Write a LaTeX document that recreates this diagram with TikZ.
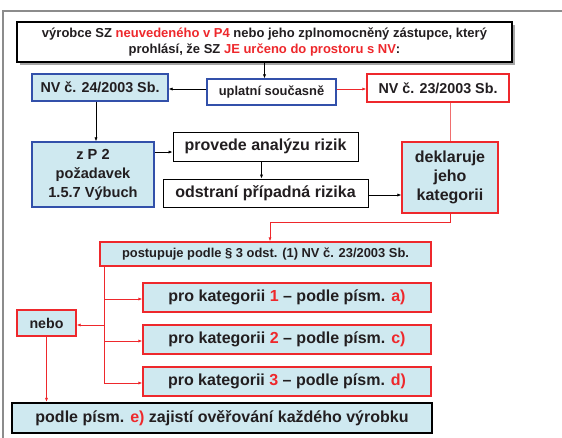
\documentclass[tikz,border=0pt]{standalone}
\usepackage{fontspec}
\setmainfont{Liberation Sans}
\usetikzlibrary{arrows.meta,calc}
\definecolor{txt}{RGB}{34,30,32}
\definecolor{rd}{RGB}{238,40,44}
\definecolor{rdl}{RGB}{240,110,110}
\definecolor{bl}{RGB}{50,80,170}
\definecolor{lb}{RGB}{207,233,240}
\definecolor{frm}{RGB}{140,140,140}
\newcommand{\R}[1]{\textcolor{rd}{#1}}
\tikzset{
  bx/.style={rectangle,inner sep=0pt,text=txt,font=\bfseries,align=center,line width=1.3pt},
  blb/.style={bx,draw=bl,fill=lb},
  blw/.style={bx,draw=bl,fill=white},
  rdw/.style={bx,draw=rd,fill=white},
  rdb/.style={bx,draw=rd,fill=lb},
  bkw/.style={bx,draw=black,fill=white,line width=0.9pt},
  arr/.style={-{Latex[length=4pt,width=3.2pt]},line width=0.7pt},
  rarr/.style={arr,draw=rd,line width=0.8pt,-{Latex[length=4pt,width=3.2pt]}},
}
\newcommand{\fs}[2]{\fontsize{#1}{#2}\selectfont}
\begin{document}
\begin{tikzpicture}[x=1pt,y=-1pt]
\useasboundingbox (0,0) rectangle (562,437);
\draw[frm,line width=1.5pt] (3,440) -- (3,11) -- (565,11);
% top box with shadow
\fill[gray!70] (20,25) rectangle (515,65);
\node[bx,draw=black,fill=white,minimum width=495pt,minimum height=40pt,font=\bfseries\fs{13}{15.5}] (top) at (264.5,42)
 {výrobce SZ \R{neuvedeného v P4} nebo jeho zplnomocněný zástupce, který\\ prohlásí, že SZ \R{JE určeno do prostoru s NV}:};
\node[blb,minimum width=136pt,minimum height=27pt,font=\bfseries\fs{14.3}{17}] (nv24) at (100,87.5) {NV č. 24/2003 Sb.};
\node[blw,minimum width=129pt,minimum height=26pt,font=\bfseries\fs{12.9}{15}] (upl) at (271.5,92) {uplatní současně};
\node[rdw,minimum width=142pt,minimum height=28pt,font=\bfseries\fs{14.3}{17}] (nv23) at (438,88) {NV č. 23/2003 Sb.};
\node[blb,minimum width=122pt,minimum height=65pt,font=\bfseries\fs{14.6}{19}] (zp2) at (93,174.5) {z P 2\\požadavek\\1.5.7 Výbuch};
\node[bkw,minimum width=185pt,minimum height=29pt,font=\bfseries\fs{16}{19}] (prov) at (265.5,146.5) {provede analýzu rizik};
\node[bkw,minimum width=205pt,minimum height=28pt,font=\bfseries\fs{16}{19}] (odst) at (265.5,193) {odstraní případná rizika};
\node[rdb,minimum width=96pt,minimum height=71pt,font=\bfseries\fs{16}{19}] (dekl) at (450,177.5) {deklaruje\\jeho\\kategorii};
\node[rdb,minimum width=331pt,minimum height=24pt,font=\bfseries\fs{12.9}{15}] (post) at (265.5,254) {postupuje podle § 3 odst. (1) NV č. 23/2003 Sb.};
\node[rdb,minimum width=288pt,minimum height=29pt,font=\bfseries\fs{16}{19}] (k1) at (287,297.5) {pro kategorii \R{1} – podle písm. \R{a)}};
\node[rdb,minimum width=288pt,minimum height=29pt,font=\bfseries\fs{16}{19}] (k2) at (287,339.5) {pro kategorii \R{2} – podle písm. \R{c)}};
\node[rdb,minimum width=288pt,minimum height=29pt,font=\bfseries\fs{16}{19}] (k3) at (287,381.5) {pro kategorii \R{3} – podle písm. \R{d)}};
\node[rdb,minimum width=59pt,minimum height=26pt,font=\bfseries\fs{14.2}{17}] (nebo) at (46.5,323) {nebo};
\node[bx,draw=black,fill=lb,line width=2.2pt,minimum width=420pt,minimum height=30pt,font=\bfseries\fs{16}{19}] (fin) at (222,418) {podle písm. \R{e)} zajistí ověřování každého výrobku};
% connectors
\draw[arr] (top.south) -- (top.south |- upl.north);
\draw[arr] ([yshift=3pt]upl.west) -- ([yshift=3pt]upl.west -| nv24.east);
\draw[rarr] ([yshift=3pt]upl.east) -- ([yshift=3pt]upl.east -| nv23.west);
\draw[arr] ([xshift=-4pt]nv24.south) -- ([xshift=-4pt]nv24.south |- zp2.north);
\draw[arr] ([yshift=-5.5pt]prov.west -| zp2.east) -- ([yshift=-5.5pt]prov.west);
\draw[arr] ([xshift=-4pt]prov.south) -- ([xshift=-4pt]prov.south |- odst.north);
\draw[arr] ([yshift=-2pt]odst.east) -- ([yshift=-2pt]odst.east -| dekl.west);
\draw[rdl,line width=0.9pt] (dekl.north |- nv23.south) -- (dekl.north);
\draw[rarr] (dekl.south) -- ++(0,9) -| ([xshift=4.5pt]post.north);
\coordinate (b) at ([xshift=5pt]post.south west);
\draw[rarr] (b) |- ([yshift=-1.5pt]k3.west);
\draw[rarr] (b) |- ([yshift=-1.5pt]k1.west);
\draw[rarr] (b) |- ([yshift=-1.5pt]k2.west);
\draw[rarr] ([yshift=-2pt]b |- nebo.east) -- ([yshift=-2pt]nebo.east);
\draw[rarr] (nebo.south) -- (nebo.south |- fin.north);
\end{tikzpicture}
\end{document}
